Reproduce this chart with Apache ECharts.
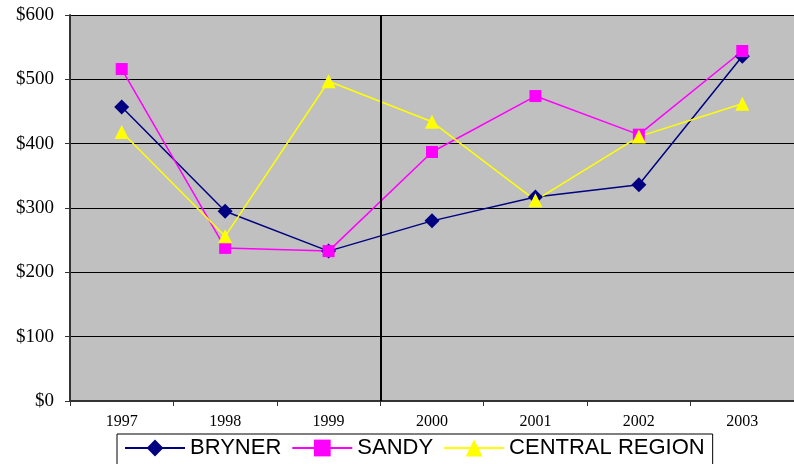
<!DOCTYPE html>
<html><head><meta charset="utf-8">
<script src="https://cdn.jsdelivr.net/npm/echarts@6/dist/echarts.min.js"></script>
<style>html,body{margin:0;padding:0;background:#fff}#c{width:794px;height:464px}</style>
</head><body><div id="c"></div>
<script>
var years = ['1997','1998','1999','2000','2001','2002','2003'];
var bryner = [457, 295, 233, 280, 317, 336, 536];
var sandy = [516, 238, 233, 387, 474, 414, 544];
var central = [418, 256, 497, 434, 312, 411, 462];
var yTicks = [0, 100, 200, 300, 400, 500, 600];
var dividerPos = [2.5]; // between 1999 and 2000

var chart = echarts.init(document.getElementById('c'));
chart.setOption({
  animation: false,
  backgroundColor: '#fff',
  grid: {left: 70, right: 0, top: 15, bottom: 63, show: true, backgroundColor: '#C0C0C0', borderWidth: 0},
  legend: {
    left: 117, top: 434, itemGap: 10, itemWidth: 60, itemHeight: 21,
    padding: [3, 8, 20, 7],
    borderColor: '#000', borderWidth: 1,
    textStyle: {fontFamily: 'Liberation Sans', fontSize: 22, color: '#000'},
    data: ['BRYNER', 'SANDY', 'CENTRAL REGION']
  },
  xAxis: [{
    type: 'category', data: years, boundaryGap: true,
    axisLine: {lineStyle: {color: '#333', width: 2}},
    axisTick: {show: true, inside: false, length: 5, lineStyle: {color: '#333'}},
    axisLabel: {fontFamily: 'Liberation Serif', fontSize: 16, color: '#000', margin: 13},
    splitLine: {show: false}
  }, {
    type: 'value', min: -0.5, max: 6.5, show: false, position: 'bottom'
  }],
  yAxis: {
    type: 'value', min: 0, max: 600, interval: 100,
    axisLine: {show: true, onZero: false, lineStyle: {color: '#333', width: 2}},
    axisTick: {show: true, length: 5, lineStyle: {color: '#333'}},
    axisLabel: {fontFamily: 'Liberation Serif', fontSize: 19, color: '#000', margin: 16,
      formatter: function (v) { return yTicks.indexOf(v) >= 0 ? '$' + v : ''; }},
    splitLine: {show: true, lineStyle: {color: '#000', width: 1}}
  },
  series: [
    {name: 'divider', type: 'line', xAxisIndex: 1, data: [], silent: true,
     markLine: {silent: true, symbol: 'none', label: {show: false},
       lineStyle: {color: '#000', width: 2, type: 'solid'},
       data: dividerPos.map(function (p) { return {xAxis: p}; })}},
    {name: 'BRYNER', type: 'line', data: bryner, symbol: 'diamond', symbolSize: 15,
     itemStyle: {color: '#000080'}, lineStyle: {color: '#000080', width: 1.5}},
    {name: 'SANDY', type: 'line', data: sandy, symbol: 'rect', symbolSize: 12,
     itemStyle: {color: '#FF00FF'}, lineStyle: {color: '#FF00FF', width: 1.5}},
    {name: 'CENTRAL REGION', type: 'line', data: central, symbol: 'triangle', symbolSize: 14,
     itemStyle: {color: '#FFFF00'}, lineStyle: {color: '#FFFF00', width: 1.5}}
  ]
});
</script></body></html>
